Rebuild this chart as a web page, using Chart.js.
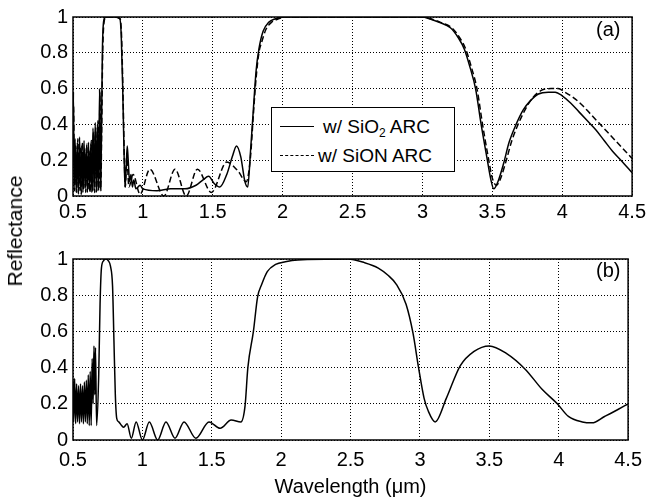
<!DOCTYPE html>
<html>
<head>
<meta charset="utf-8">
<script src="https://cdn.jsdelivr.net/npm/chart.js@4.4.1/dist/chart.umd.min.js"></script>
<style>
  body { margin: 0; background: #fff; font-family: "Liberation Sans", Arial, sans-serif; }
  #wrap { position: relative; width: 650px; height: 501px; overflow: hidden; }
  canvas { position: absolute; left: 0; }
  #cA { top: 0; }
  #cB { top: 242px; }
  .ylab { position: absolute; left: 15px; top: 231px; transform: translate(-50%, -50%) rotate(-90deg);
          font-size: 21px; white-space: nowrap; color: #000; }
  .tag { position: absolute; font-size: 20px; color: #000; }
  .legend { position: absolute; left: 271px; top: 107px; width: 182px; height: 63px;
            border: 1.5px solid #000; background: #fff; font-size: 19px; color: #000; }
  .legend .row { position: absolute; left: 0; height: 24px; line-height: 24px; white-space: nowrap; }
  .legend .smp { position: absolute; left: 8px; top: 11px; width: 34px; height: 0; }
  .legend .txt { position: absolute; left: 51px; top: 0; }
  sub { font-size: 12px; vertical-align: -4px; line-height: 0; }
</style>
</head>
<body>
<div id="wrap">
  <canvas id="cA" width="650" height="226"></canvas>
  <canvas id="cB" width="650" height="259"></canvas>
  <div class="ylab">Reflectance</div>
  <div class="tag" style="left:596px; top:18px;">(a)</div>
  <div class="tag" style="left:596px; top:259px;">(b)</div>
  <div class="legend">
    <div class="row" style="top:7px; width:100%;">
      <div class="smp" style="border-top:1.5px solid #000;"></div>
      <div class="txt">w/ SiO<sub>2</sub> ARC</div>
    </div>
    <div class="row" style="top:36px; width:100%;">
      <div class="smp" style="border-top:1.5px dashed #000;"></div>
      <div class="txt" style="left:46px;">w/ SiON ARC</div>
    </div>
  </div>
</div>
<script>
// ---- data ----
const xTicks = [0.5, 1, 1.5, 2, 2.5, 3, 3.5, 4, 4.5];
const yTicks = [0, 0.2, 0.4, 0.6, 0.8, 1];

// (a) w/ SiO2 ARC
const aSolidX = [0.500,0.503,0.508,0.515,0.523,0.531,0.539,0.547,0.555,0.563,0.571,0.579,0.587,0.595,0.603,0.611,0.619,0.627,0.635,0.643,0.651,0.659,0.667,0.675,0.683,0.690,0.697,0.703,0.710,0.720,0.735,0.800,0.835,0.845,0.855,0.865,0.872,0.880,0.888,0.895,0.905,0.915,0.925,0.935,0.950,0.980,1.00,1.10,1.20,1.30,1.38,1.43,1.47,1.51,1.55,1.60,1.64,1.67,1.70,1.73,1.75,1.77,1.79,1.81,1.83,1.86,1.90,1.95,2.00,3.00,3.05,3.12,3.20,3.26,3.30,3.34,3.38,3.42,3.46,3.49,3.51,3.54,3.58,3.62,3.67,3.72,3.77,3.83,3.90,3.95,4.00,4.06,4.12,4.18,4.24,4.30,4.36,4.42,4.50];
const aSolidY = [0.20,0.58,0.03,0.32,0.02,0.30,0.01,0.33,0.03,0.28,0.02,0.31,0.04,0.27,0.02,0.30,0.03,0.29,0.02,0.38,0.03,0.41,0.02,0.40,0.03,0.60,0.04,0.30,0.80,0.98,1.00,1.00,0.99,0.90,0.62,0.25,0.05,0.15,0.28,0.20,0.08,0.12,0.05,0.09,0.04,0.06,0.04,0.03,0.04,0.04,0.06,0.09,0.11,0.07,0.05,0.12,0.22,0.28,0.22,0.08,0.05,0.25,0.48,0.70,0.82,0.92,0.97,0.99,1.00,1.00,0.99,0.97,0.94,0.88,0.82,0.72,0.60,0.40,0.22,0.09,0.04,0.08,0.18,0.30,0.40,0.48,0.53,0.57,0.58,0.58,0.56,0.52,0.47,0.42,0.37,0.31,0.25,0.20,0.13];

// (a) w/ SiON ARC
const aDashX = [0.500,0.504,0.511,0.519,0.527,0.535,0.543,0.551,0.559,0.567,0.575,0.583,0.591,0.599,0.607,0.615,0.623,0.631,0.639,0.647,0.655,0.663,0.671,0.679,0.686,0.693,0.699,0.705,0.712,0.722,0.737,0.800,0.837,0.847,0.857,0.867,0.874,0.885,0.900,0.930,0.980,1.050,1.150,1.230,1.310,1.390,1.490,1.600,1.680,1.740,1.770,1.790,1.810,1.830,1.850,1.880,1.920,1.970,2.020,3.000,3.060,3.130,3.210,3.270,3.310,3.350,3.390,3.430,3.470,3.500,3.530,3.560,3.600,3.640,3.690,3.740,3.790,3.850,3.920,3.970,4.020,4.080,4.140,4.200,4.260,4.320,4.380,4.440,4.500];
const aDashY = [0.25,0.50,0.03,0.28,0.02,0.32,0.03,0.27,0.01,0.30,0.04,0.26,0.02,0.29,0.03,0.25,0.02,0.31,0.03,0.36,0.02,0.38,0.03,0.42,0.04,0.58,0.03,0.35,0.78,0.97,1.00,1.00,0.99,0.90,0.60,0.22,0.05,0.22,0.05,0.12,0.01,0.15,0.00,0.15,0.00,0.15,0.02,0.19,0.14,0.08,0.22,0.45,0.66,0.80,0.86,0.93,0.97,0.99,1.00,1.00,0.99,0.97,0.94,0.88,0.82,0.72,0.60,0.40,0.22,0.10,0.06,0.10,0.20,0.31,0.41,0.49,0.55,0.59,0.60,0.60,0.58,0.55,0.51,0.46,0.41,0.36,0.31,0.26,0.21];

// (b)
const bX = [0.500,0.505,0.512,0.519,0.526,0.533,0.540,0.547,0.554,0.561,0.568,0.575,0.582,0.589,0.596,0.603,0.610,0.617,0.624,0.631,0.638,0.645,0.651,0.657,0.662,0.670,0.685,0.695,0.705,0.720,0.735,0.755,0.770,0.785,0.795,0.805,0.815,0.830,0.850,0.865,0.890,0.920,0.955,1.000,1.050,1.110,1.170,1.235,1.300,1.385,1.480,1.560,1.640,1.710,1.740,1.760,1.800,1.830,1.860,1.900,1.960,2.030,2.120,2.480,2.600,2.700,2.770,2.830,2.900,2.950,2.990,3.030,3.060,3.110,3.190,3.290,3.390,3.500,3.620,3.760,3.880,3.990,4.070,4.170,4.240,4.330,4.430,4.500];
const bY = [0.33,0.10,0.34,0.09,0.31,0.10,0.30,0.09,0.31,0.10,0.30,0.09,0.32,0.10,0.33,0.09,0.36,0.08,0.38,0.08,0.45,0.20,0.52,0.25,0.51,0.08,0.35,0.75,0.95,0.99,1.00,0.99,0.96,0.85,0.55,0.25,0.12,0.10,0.08,0.07,0.09,0.01,0.10,0.00,0.10,0.00,0.10,0.01,0.10,0.01,0.10,0.065,0.11,0.10,0.19,0.40,0.60,0.79,0.86,0.93,0.97,0.985,0.995,1.00,0.98,0.95,0.91,0.86,0.75,0.59,0.40,0.23,0.16,0.10,0.23,0.41,0.49,0.52,0.48,0.39,0.28,0.20,0.13,0.10,0.095,0.13,0.17,0.20];

const pts = (xs, ys) => xs.map((x, i) => ({ x, y: ys[i] }));
const FONT = "'Liberation Sans', Arial, sans-serif";

// solid frame round the plot area, on top of the grid
const framePlugin = {
  id: "frame",
  afterDraw(chart) {
    const { ctx, chartArea: a } = chart;
    ctx.save();
    ctx.strokeStyle = "#000";
    ctx.lineWidth = 1.5;
    ctx.strokeRect(a.left, a.top, a.right - a.left, a.bottom - a.top);
    ctx.restore();
  }
};

function makePanel(id, datasets, opts) {
  return new Chart(document.getElementById(id), {
    type: "line",
    data: { datasets },
    plugins: [framePlugin],
    options: {
      responsive: false, animation: false,
      layout: { padding: { top: 11, right: 17, left: 0, bottom: 0 } },
      plugins: { legend: { display: false }, tooltip: { enabled: false } },
      elements: { point: { radius: 0 }, line: { borderWidth: 1.5, borderColor: "#000", cubicInterpolationMode: "monotone" } },
      scales: {
        x: {
          type: "linear", min: 0.5, max: 4.5,
          afterBuildTicks: s => { s.ticks = xTicks.map(v => ({ value: v })); },
          afterFit: s => { s.height = opts.xHeight; },
          grid: { color: "#000", lineWidth: 1, drawTicks: false },
          border: { display: false, dash: [1, 2] },
          ticks: { padding: opts.xPad, color: "#000", font: { family: FONT, size: 20 }, maxRotation: 0, callback: v => String(v) },
          title: opts.xTitle ? { display: true, text: opts.xTitle, color: "#000", font: { family: FONT, size: 20 }, padding: { top: 0, bottom: 2 } } : { display: false }
        },
        y: {
          min: 0, max: 1,
          afterBuildTicks: s => { s.ticks = yTicks.map(v => ({ value: v })); },
          afterFit: s => { s.width = 73; },
          grid: { color: "#000", lineWidth: 1, drawTicks: false },
          border: { display: false, dash: [1, 2] },
          ticks: { padding: 5, color: "#000", font: { family: FONT, size: 20 }, callback: v => String(v) }
        }
      }
    }
  });
}

makePanel("cA", [
  { label: "w/ SiO2 ARC", data: pts(aSolidX, aSolidY) },
  { label: "w/ SiON ARC", data: pts(aDashX, aDashY), borderDash: [6, 3] }
], { xHeight: 30, xPad: 4 });

makePanel("cB", [
  { label: "(b)", data: pts(bX, bY) }
], { xHeight: 61, xPad: 8, xTitle: "Wavelength (\u03bcm)" });
</script>
</body>
</html>
